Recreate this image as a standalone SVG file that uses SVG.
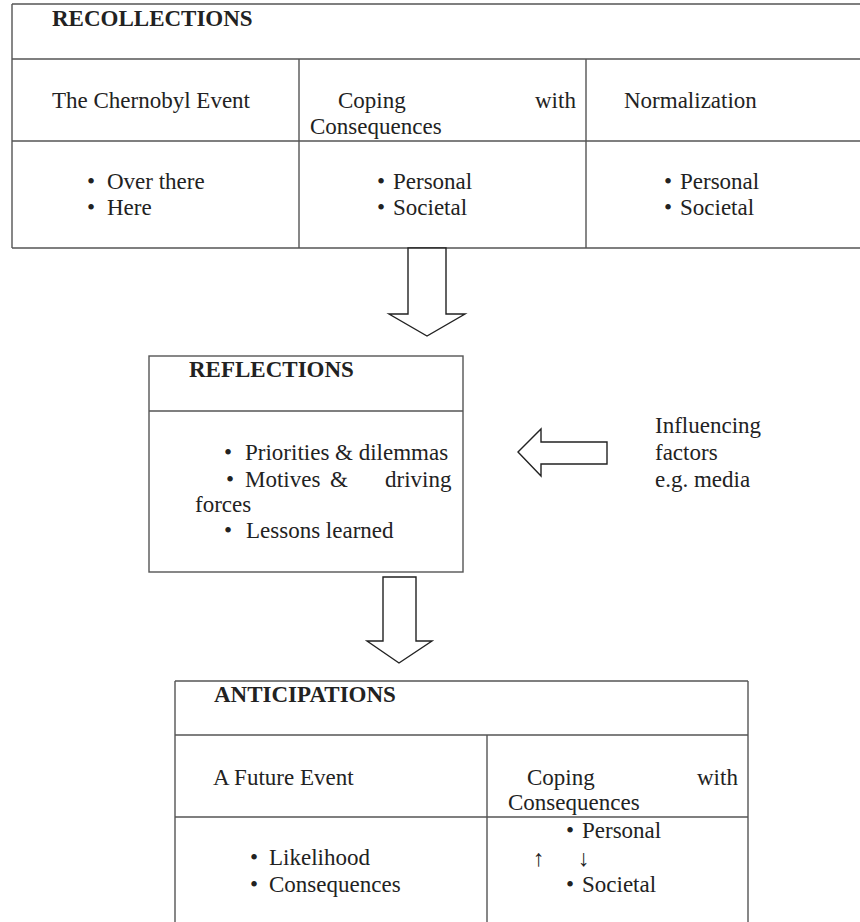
<svg xmlns="http://www.w3.org/2000/svg" width="860" height="922" viewBox="0 0 860 922">
<style>
  .ln { stroke: #555; stroke-width: 1.4; fill: none; }
  .box { stroke: #555; stroke-width: 1.4; fill: #fff; }
  .arr { stroke: #222; stroke-width: 1.4; fill: #fff; stroke-linejoin: miter; }
  text { font-family: "Liberation Serif", "Times New Roman", serif; font-size: 23px; fill: #222; }
  .b { font-weight: bold; }
</style>
<rect width="860" height="922" fill="#fff"/>

<g id="recollections">
  <path class="ln" d="M12,4 H860 M12,4 V248 M12,248 H860 M12,59 H860 M12,141 H860 M299,59 V248 M586,59 V248"/>
  <text class="b" x="52" y="26">RECOLLECTIONS</text>
  <text x="52" y="108">The Chernobyl Event</text>
  <text x="338" y="108">Coping</text>
  <text x="535" y="108">with</text>
  <text x="310" y="134">Consequences</text>
  <text x="624" y="108">Normalization</text>
  <text x="87" y="189">•</text><text x="107" y="189">Over there</text>
  <text x="87" y="215">•</text><text x="107" y="215">Here</text>
  <text x="377" y="189">•</text><text x="393" y="189">Personal</text>
  <text x="377" y="215">•</text><text x="393" y="215">Societal</text>
  <text x="664" y="189">•</text><text x="680" y="189">Personal</text>
  <text x="664" y="215">•</text><text x="680" y="215">Societal</text>
</g>

<g id="reflections">
  <rect class="box" x="149" y="356" width="314" height="216"/>
  <path class="ln" d="M149,411 H463"/>
  <text class="b" x="189" y="377">REFLECTIONS</text>
  <text x="224" y="460">•</text><text x="245" y="460">Priorities &amp; dilemmas</text>
  <text x="226" y="487">•</text><text x="245" y="487">Motives</text>
  <text x="330" y="487">&amp;</text>
  <text x="385" y="487">driving</text>
  <text x="195" y="512">forces</text>
  <text x="224" y="538">•</text><text x="246" y="538">Lessons learned</text>
</g>

<g id="influencing-factors">
  <text x="655" y="433">Influencing</text>
  <text x="655" y="460">factors</text>
  <text x="655" y="487">e.g. media</text>
</g>

<g id="anticipations">
  <path class="ln" d="M175,681 H748 M175,681 V922 M748,681 V922 M175,735 H748 M175,817 H748 M487,735 V922"/>
  <text class="b" x="214" y="702">ANTICIPATIONS</text>
  <text x="213" y="785">A Future Event</text>
  <text x="527" y="785">Coping</text>
  <text x="697" y="785">with</text>
  <text x="508" y="810">Consequences</text>
  <text x="250" y="865">•</text><text x="269" y="865">Likelihood</text>
  <text x="250" y="892">•</text><text x="269" y="892">Consequences</text>
  <text x="566" y="838">•</text><text x="582" y="838">Personal</text>
  <text x="533" y="866">↑</text><text x="578" y="866">↓</text>
  <text x="566" y="892">•</text><text x="582" y="892">Societal</text>
</g>

<g id="connectors">
  <polygon class="arr" points="408,248 446,248 446,314 465,314 427,336 389,314 408,314"/>
  <polygon class="arr" points="383,577 416,577 416,641 432,641 399,663 367,641 383,641"/>
  <polygon class="arr" points="518,452 541,429 541,442 607,442 607,464 541,464 541,476"/>
</g>
</svg>
